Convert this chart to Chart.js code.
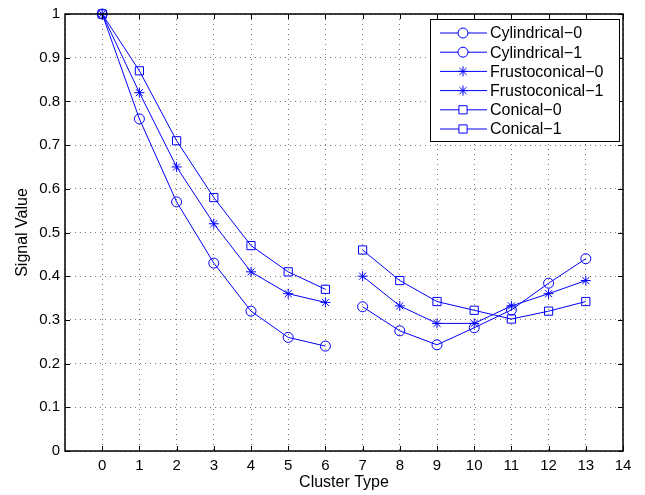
<!DOCTYPE html>
<html>
<head>
<meta charset="utf-8">
<script src="https://cdn.jsdelivr.net/npm/chart.js@4"></script>
<style>
  html, body { margin: 0; padding: 0; background: #fff; }
  #wrap { width: 645px; height: 495px; }
</style>
</head>
<body>
<div id="wrap"><canvas id="chart"></canvas></div>
<script>
const clustersA = [0, 1, 2, 3, 4, 5, 6];
const clustersB = [7, 8, 9, 10, 11, 12, 13];
const xTicks = [0, 1, 2, 3, 4, 5, 6, 7, 8, 9, 10, 11, 12, 13, 14];

const cylindrical0 = [1, 0.76, 0.57, 0.43, 0.32, 0.26, 0.24];
const cylindrical1 = [0.33, 0.275, 0.243, 0.282, 0.323, 0.384, 0.44];
const frusto0 = [1, 0.82, 0.65, 0.52, 0.41, 0.36, 0.34];
const frusto1 = [0.40, 0.332, 0.292, 0.292, 0.332, 0.36, 0.39];
const conical0 = [1, 0.87, 0.71, 0.58, 0.47, 0.41, 0.37];
const conical1 = [0.46, 0.39, 0.342, 0.322, 0.302, 0.32, 0.342];

const seriesNames = ['Cylindrical\u22120', 'Cylindrical\u22121', 'Frustoconical\u22120',
  'Frustoconical\u22121', 'Conical\u22120', 'Conical\u22121'];

const BLUE = '#0000ff';
const FONT = '"Liberation Sans", Arial, Helvetica, sans-serif';

function toPoints(xs, ys) {
  return xs.map((x, i) => ({ x: x, y: ys[i] }));
}

function makeSet(label, xs, ys, style, radius) {
  return {
    label: label,
    data: toPoints(xs, ys),
    borderColor: BLUE,
    borderWidth: 1,
    pointStyle: style,
    pointRadius: radius,
    pointHoverRadius: radius,
    pointBorderColor: BLUE,
    pointBackgroundColor: 'rgba(0,0,0,0)',
    pointBorderWidth: 1,
    tension: 0,
    clip: false
  };
}

const datasets = [
  makeSet(seriesNames[0], clustersA, cylindrical0, 'circle', 5),
  makeSet(seriesNames[1], clustersB, cylindrical1, 'circle', 5),
  makeSet(seriesNames[2], clustersA, frusto0, 'star', 5),
  makeSet(seriesNames[3], clustersB, frusto1, 'star', 5),
  makeSet(seriesNames[4], clustersA, conical0, 'rect', 5.8),
  makeSet(seriesNames[5], clustersB, conical1, 'rect', 5.8)
];

// box around the axes, inward ticks on all sides (matlab look)
const framePlugin = {
  id: 'frame',
  afterDatasetsDraw(chart) {
    const { ctx, chartArea: a, scales } = chart;
    ctx.save();
    ctx.strokeStyle = '#000';
    ctx.lineWidth = 1;
    const len = 5;
    ctx.beginPath();
    xTicks.forEach(v => {
      const px = Math.round(scales.x.getPixelForValue(v)) + 0.5;
      ctx.moveTo(px, a.bottom); ctx.lineTo(px, a.bottom - len);
      ctx.moveTo(px, a.top); ctx.lineTo(px, a.top + len);
    });
    for (let i = 0; i <= 10; i++) {
      const py = Math.round(scales.y.getPixelForValue(i / 10)) + 0.5;
      ctx.moveTo(a.left, py); ctx.lineTo(a.left + len, py);
      ctx.moveTo(a.right, py); ctx.lineTo(a.right - len, py);
    }
    ctx.stroke();
    ctx.lineWidth = 1.5;
    ctx.strokeRect(a.left, a.top, a.right - a.left, a.bottom - a.top);
    ctx.restore();
  },
  afterDraw(chart) {
    const { ctx } = chart;
    const box = { x: 430, y: 19, w: 189, h: 122 };
    ctx.save();
    ctx.fillStyle = '#fff';
    ctx.fillRect(box.x, box.y, box.w, box.h);
    ctx.strokeStyle = '#000';
    ctx.lineWidth = 1;
    ctx.strokeRect(box.x + 0.5, box.y + 0.5, box.w, box.h);
    ctx.font = '16px ' + FONT;
    ctx.textBaseline = 'middle';
    chart.data.datasets.forEach((ds, i) => {
      const y = 33 + i * 19.2;
      ctx.strokeStyle = BLUE;
      ctx.lineWidth = 1;
      ctx.beginPath();
      ctx.moveTo(440, y); ctx.lineTo(487, y);
      ctx.stroke();
      ctx.fillStyle = '#fff';
      Chart.helpers.drawPoint(ctx, {
        pointStyle: ds.pointStyle,
        radius: ds.pointRadius,
        borderWidth: 1
      }, 463, y);
      ctx.fillStyle = '#000';
      ctx.fillText(ds.label, 490, y + 1);
    });
    ctx.restore();
  }
};

new Chart(document.getElementById('chart'), {
  type: 'line',
  data: { datasets: datasets },
  plugins: [framePlugin],
  options: {
    responsive: true,
    maintainAspectRatio: false,
    animation: false,
    layout: { padding: { left: 0, top: 11, right: 22, bottom: 0 } },
    plugins: { legend: { display: false }, tooltip: { enabled: false } },
    scales: {
      x: {
        type: 'linear',
        min: -1,
        max: 14,
        afterFit: s => { s.height = 44; },
        afterBuildTicks: s => { s.ticks = [-1].concat(xTicks).map(v => ({ value: v })); },
        ticks: {
          color: '#000',
          padding: 6,
          font: { family: FONT, size: 15 },
          callback: v => (v < 0 ? '' : v)
        },
        grid: { color: '#777', drawTicks: false },
        border: { display: false, dash: [1, 4] },
        title: {
          display: true,
          text: 'Cluster Type',
          color: '#000',
          font: { family: FONT, size: 16 },
          padding: { top: 0, bottom: 3 }
        }
      },
      y: {
        min: 0,
        max: 1,
        afterFit: s => { s.width = 65; },
        ticks: {
          stepSize: 0.1,
          color: '#000',
          padding: 5,
          font: { family: FONT, size: 15 },
          callback: v => Math.round(v * 10) / 10
        },
        grid: { color: '#777', drawTicks: false },
        border: { display: false, dash: [1, 4] },
        title: {
          display: true,
          text: 'Signal Value',
          color: '#000',
          font: { family: FONT, size: 16 },
          padding: { top: 13, bottom: 0 }
        }
      }
    }
  }
});
</script>
</body>
</html>
